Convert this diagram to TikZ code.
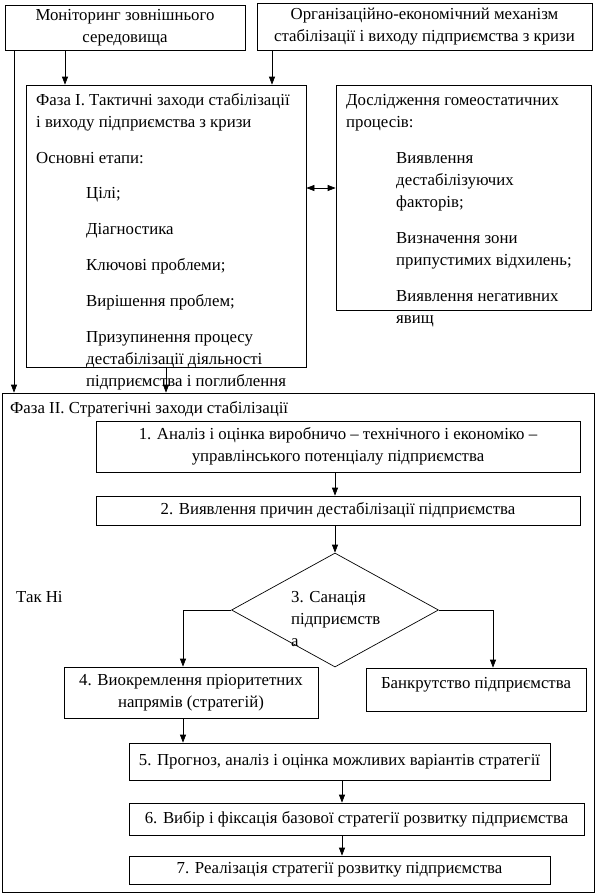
\documentclass[tikz,border=0pt]{standalone}
\usepackage{fontspec}
\setmainfont{Liberation Serif}
\usetikzlibrary{arrows.meta,shapes.geometric}
\begin{document}
\begin{tikzpicture}[
			x=1pt, y=-1pt,
			txt/.style={inner sep=0pt, font=\fontsize{16.8}{22}\selectfont},
			box/.style={draw, rectangle, inner sep=2pt, align=center, line width=0.7pt, font=\fontsize{16.8}{22}\selectfont},
			arr/.style={line width=0.7pt, -{Triangle[length=8pt,width=6pt]}},
			dbl/.style={line width=0.7pt, {Triangle[length=8pt,width=6pt]}-{Triangle[length=8pt,width=6pt]}}
		]
		\useasboundingbox (0,0) rectangle (599,895);
		% top boxes
		\node[box, minimum width=240pt, minimum height=45pt] (mon) at (125,28) {Моніторинг зовнішнього\\середовища};
		\node[box, minimum width=335pt, minimum height=47pt] (org) at (424.5,27) {Організаційно-економічний механізм\\стабілізації і виходу підприємства з кризи};
		% phase I
		\node[box, minimum width=280pt, minimum height=282pt] (ph1) at (166,226) {};
		\node[txt, anchor=base west, align=left] (ph1title) at (36,163) {Фаза І. Тактичні заходи стабілізації\\і виходу підприємства з кризи\\[14pt]Основні етапи:};
		\node[txt, anchor=base west, align=left] (ph1list) at (86,386) {Цілі;\\[14pt]Діагностика\\[14pt]Ключові проблеми;\\[14pt]Вирішення проблем;\\[14pt]Призупинення процесу\\дестабілізації діяльності\\підприємства і поглиблення};
		\node[box, minimum width=255pt, minimum height=225pt] (homeo) at (463.5,197.5) {};
		\node[txt, anchor=base west, align=left] (homeotitle) at (346,127) {Дослідження гомеостатичних\\процесів:};
		\node[txt, anchor=base west, align=left] (homeolist) at (396,323) {Виявлення\\дестабілізуючих\\факторів;\\[14pt]Визначення зони\\припустимих відхилень;\\[14pt]Виявлення негативних\\явищ};
		% phase II
		\node[box, minimum width=592pt, minimum height=499pt] (ph2) at (298,642.5) {};
		\node[txt, anchor=base west] (ph2title) at (10,413) {Фаза ІІ. Стратегічні заходи стабілізації};
		\node[box, minimum width=484pt, minimum height=51pt] (s1) at (338,446.5) {1. Аналіз і оцінка виробничо – технічного і економіко –\\управлінського потенціалу підприємства};
		\node[box, minimum width=484pt, minimum height=29pt] (s2) at (338,510.5) {2. Виявлення причин дестабілізації підприємства};
		\node[draw, diamond, inner sep=0pt, line width=0.7pt, minimum width=207pt, minimum height=114pt] (san) at (335,610) {};
		\node[txt, anchor=base west, align=left] (santxt) at (291,646) {3. Санація\\підприємств\\а};
		\node[txt, anchor=base west] (yesno) at (16,602) {Так Ні};
		\node[box, minimum width=254pt, minimum height=51pt] (s4) at (191,692.5) {4. Виокремлення пріоритетних\\напрямів (стратегій)};
		\node[box, minimum width=220pt, minimum height=43pt, text depth=14pt] (bank) at (476,689.5) {Банкрутство підприємства};
		\node[box, minimum width=421pt, minimum height=37pt] (s5) at (339.5,761.5) {5. Прогноз, аналіз і оцінка можливих варіантів стратегії};
		\node[box, minimum width=455pt, minimum height=32pt] (s6) at (356.5,819) {6. Вибір і фіксація базової стратегії розвитку підприємства};
		\node[box, minimum width=421pt, minimum height=28pt] (s7) at (339.5,870) {7. Реалізація стратегії розвитку підприємства};
		% connectors
		\draw[arr] (65,0 |- mon.south) -- (65,0 |- ph1.north);
		\draw[arr] (272,0 |- org.south) -- (272,0 |- ph1.north);
		\draw[arr] (14,0 |- mon.south) -- (14,0 |- ph2.north);
		\draw[arr] (ph1.south) -- (ph1.south |- ph2.north);
		\draw[dbl] (ph1.east |- 0,188) -- (homeo.west |- 0,188);
		\draw[arr] (335,0 |- s1.south) -- (335,0 |- s2.north);
		\draw[arr] (335,0 |- s2.south) -- (san.north);
		\draw[arr] (san.west) -| (183,0 |- s4.north);
		\draw[arr] (san.east) -| (493,0 |- bank.north);
		\draw[arr] (183,0 |- s4.south) -- (183,0 |- s5.north);
		\draw[arr] (342,0 |- s5.south) -- (342,0 |- s6.north);
		\draw[arr] (342,0 |- s6.south) -- (342,0 |- s7.north);
	\end{tikzpicture}
\end{document}
